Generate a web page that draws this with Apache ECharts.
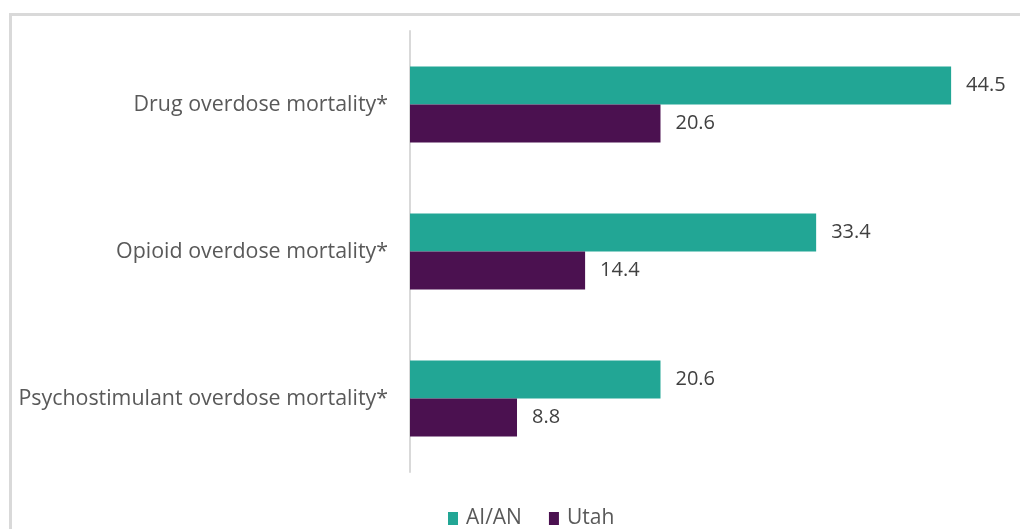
<!DOCTYPE html>
<html>
<head>
<meta charset="utf-8">
<script src="https://cdn.jsdelivr.net/npm/echarts@6/dist/echarts.min.js"></script>
<style>
html,body{margin:0;padding:0;background:#fff;}
#chart{width:1020px;height:529px;}
</style>
</head>
<body>
<div id="chart"></div>
<script>
const categories = ['Drug overdose mortality*', 'Opioid overdose mortality*', 'Psychostimulant overdose mortality*'];
const seriesNames = ['AI/AN', 'Utah'];
const aian = [44.5, 33.4, 20.6];
const utah = [20.6, 14.4, 8.8];

const chart = echarts.init(document.getElementById('chart'));
const font = 'Open Sans';
const valueLabel = {show: true, position: 'right', distance: 15, fontFamily: font, fontSize: 20, color: '#404040', formatter: p => p.value.toFixed(1)};
chart.setOption({
  animation: false,
  graphic: [{
    type: 'rect', left: 8, top: 12, shape: {width: 1100, height: 600},
    style: {fill: 'none', stroke: '#d9d9d9', lineWidth: 3}
  }],
  legend: {
    data: seriesNames, top: 503, left: 443,
    itemWidth: 10, itemHeight: 13, itemGap: 27,
    icon: 'rect',
    textStyle: {fontFamily: font, fontSize: 21, color: '#595959', padding: [0, 0, 0, 3]}
  },
  grid: {left: 410, top: 31, width: 608, bottom: 57},
  xAxis: {
    type: 'value', min: 0, max: 50, show: false
  },
  yAxis: {
    type: 'category', data: categories, inverse: true,
    axisLine: {lineStyle: {color: '#d9d9d9', width: 2}},
    axisTick: {show: false},
    axisLabel: {fontFamily: font, fontSize: 21.4, color: '#595959', margin: 22}
  },
  series: [
    {name: seriesNames[0], type: 'bar', data: aian, barWidth: 38, barGap: '0%',
     itemStyle: {color: '#22a695'}, label: valueLabel},
    {name: seriesNames[1], type: 'bar', data: utah, barWidth: 38,
     itemStyle: {color: '#4b1150'}, label: valueLabel}
  ]
});
</script>
</body>
</html>
